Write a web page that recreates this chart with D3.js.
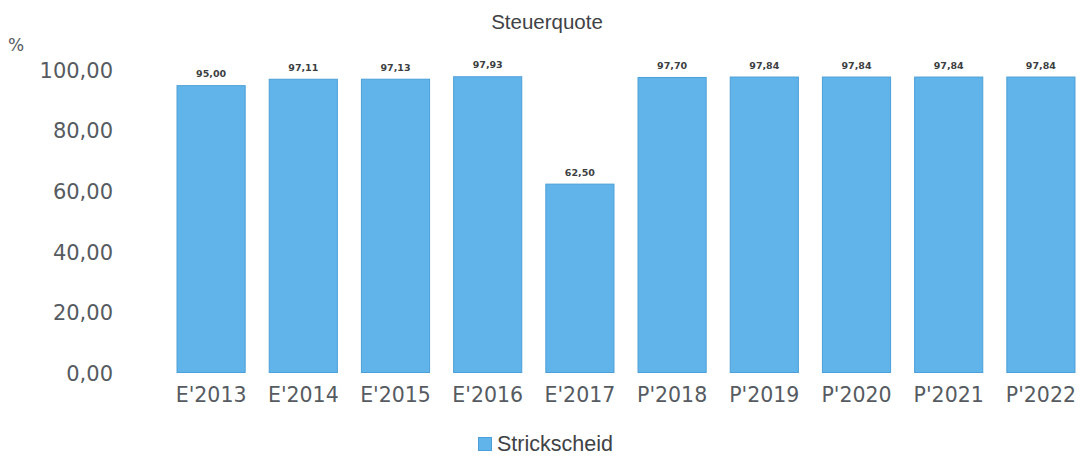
<!DOCTYPE html>
<html>
<head>
<meta charset="utf-8">
<script src="https://cdn.jsdelivr.net/npm/d3@7"></script>
<style>
  html, body { margin: 0; padding: 0; background: #fff; }
  svg { display: block; }
</style>
</head>
<body>
<svg id="chart" width="1080" height="456"></svg>
<script>
// Steuerquote per year (E = Ergebnis, P = Plan)
const categories = ["E'2013", "E'2014", "E'2015", "E'2016", "E'2017", "P'2018", "P'2019", "P'2020", "P'2021", "P'2022"];
const values = [95.00, 97.11, 97.13, 97.93, 62.50, 97.70, 97.84, 97.84, 97.84, 97.84];
const yTicks = [0, 20, 40, 60, 80, 100];
const seriesName = "Strickscheid";
const chartTitle = "Steuerquote";
const unitLabel = "%";

const svg = d3.select("#chart");
const fmt = v => d3.format(".2f")(v).replace(".", ",");

const x = d3.scaleBand().domain(categories).range([165, 1087]).paddingInner(0.25).paddingOuter(0.125);
const y = d3.scaleLinear().domain([0, 100]).range([373, 70]);

const textColor = "#565b61";
const barFill = "#61b4ea";
const barStroke = "#4c9fd8";

// title
svg.append("text")
  .attr("x", 547).attr("y", 29)
  .attr("text-anchor", "middle")
  .attr("font-family", "Liberation Sans, Arial, sans-serif")
  .attr("font-size", 20.5)
  .attr("fill", "#3f4246")
  .text(chartTitle);

// unit
svg.append("text")
  .attr("x", 8).attr("y", 51)
  .attr("font-family", "DejaVu Sans, sans-serif")
  .attr("font-size", 17)
  .attr("fill", textColor)
  .text(unitLabel);

// y axis (labels only)
const yAxis = d3.axisLeft(y).tickValues(yTicks).tickFormat(fmt).tickSize(0).tickPadding(0);
const yg = svg.append("g").attr("transform", "translate(113,0)").call(yAxis);
yg.select(".domain").remove();
yg.selectAll("text")
  .attr("font-family", "DejaVu Sans, sans-serif")
  .attr("font-size", 21)
  .attr("fill", textColor)
  .attr("dy", "0.35em");

// x axis (labels only)
const xAxis = d3.axisBottom(x).tickSize(0).tickPadding(0);
const xg = svg.append("g").attr("transform", "translate(0,381)").call(xAxis);
xg.select(".domain").remove();
xg.selectAll("text")
  .attr("font-family", "DejaVu Sans, sans-serif")
  .attr("font-size", 20.5)
  .attr("fill", textColor)
  .attr("dy", "1.0em");

// bars
svg.append("g").selectAll("rect")
  .data(values)
  .join("rect")
  .attr("x", (d, i) => x(categories[i]) + 0.5)
  .attr("y", d => y(d) + 0.5)
  .attr("width", x.bandwidth() - 1)
  .attr("height", d => y(0) - y(d) - 1)
  .attr("fill", barFill)
  .attr("stroke", barStroke)
  .attr("stroke-width", 1);

// value labels
svg.append("g").selectAll("text")
  .data(values)
  .join("text")
  .attr("x", (d, i) => x(categories[i]) + x.bandwidth() / 2)
  .attr("y", d => y(d) - 8)
  .attr("text-anchor", "middle")
  .attr("font-family", "DejaVu Sans, sans-serif")
  .attr("font-size", 9.5)
  .attr("font-weight", "bold")
  .attr("fill", "#3c3f42")
  .text(fmt);

// legend
const lg = svg.append("g").attr("transform", "translate(478,437)");
lg.append("rect").attr("x", 0.5).attr("y", 0.5).attr("width", 13).attr("height", 13)
  .attr("fill", barFill).attr("stroke", barStroke);
lg.append("text")
  .attr("x", 19).attr("y", 14)
  .attr("font-family", "Liberation Sans, Arial, sans-serif")
  .attr("font-size", 21.5)
  .attr("fill", "#3f4246")
  .text(seriesName);
</script>
</body>
</html>
